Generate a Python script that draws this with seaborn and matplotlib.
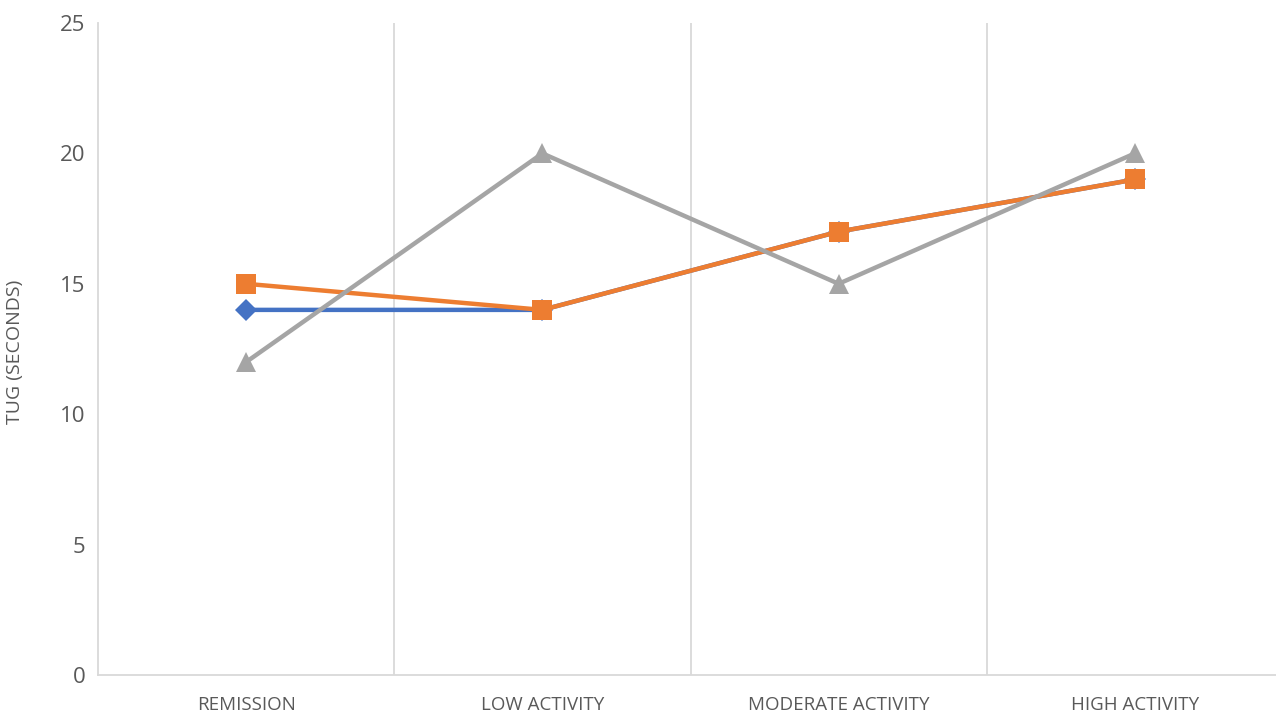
import pandas as pd
import seaborn as sns
import matplotlib.pyplot as plt

categories = ["REMISSION", "LOW ACTIVITY", "MODERATE ACTIVITY", "HIGH ACTIVITY"]
series_names = ["Series1", "Series2", "Series3"]
series1 = [14, 14, 17, 19]
series2 = [15, 14, 17, 19]
series3 = [12, 20, 15, 20]
y_ticks = [0, 5, 10, 15, 20, 25]

rows = []
for name, vals in zip(series_names, [series1, series2, series3]):
    for i, v in enumerate(vals):
        rows.append({"pos": i, "value": v, "series": name})
df = pd.DataFrame(rows)

sns.set_style("white")
plt.rcParams['font.family'] = ['Open Sans', 'DejaVu Sans']

fig = plt.figure(figsize=(12.76, 7.19), dpi=100)
ax = fig.add_axes([98 / 1276, 1 - 675 / 719, 1185 / 1276, 652 / 719])

palette = {"Series1": "#4472C4", "Series2": "#ED7D31", "Series3": "#A5A5A5"}
markers = {"Series1": "D", "Series2": "s", "Series3": "^"}
sizes = {"Series1": 11, "Series2": 14, "Series3": 14}

for name in series_names:
    sub = df[df["series"] == name]
    sns.lineplot(data=sub, x="pos", y="value", color=palette[name], marker=markers[name],
                 markersize=sizes[name], markeredgewidth=0, linewidth=3.2, ax=ax, legend=False)

ax.set_xlim(-0.5, 3.5)
ax.set_ylim(0, 25)
ax.set_xticks(range(len(categories)))
ax.set_xticklabels(categories, fontsize=13.5, color="#595959")
ax.set_yticks(y_ticks)
ax.set_yticklabels([str(t) for t in y_ticks], fontsize=16, color="#595959")
ax.tick_params(axis="both", length=0)
ax.tick_params(axis="x", pad=15)
ax.tick_params(axis="y", pad=9)

for b in [0.5, 1.5, 2.5]:
    ax.axvline(b, color="#D9D9D9", linewidth=1.3, zorder=0)

for s in ["top", "right"]:
    ax.spines[s].set_visible(False)
for s in ["left", "bottom"]:
    ax.spines[s].set_color("#D9D9D9")
    ax.spines[s].set_linewidth(1.3)

ax.set_xlabel("")
ax.set_ylabel("TUG (SECONDS)", fontsize=14, color="#595959")
ax.yaxis.set_label_coords(-0.0624, 0.495)

fig.savefig("out.png", dpi=100)
